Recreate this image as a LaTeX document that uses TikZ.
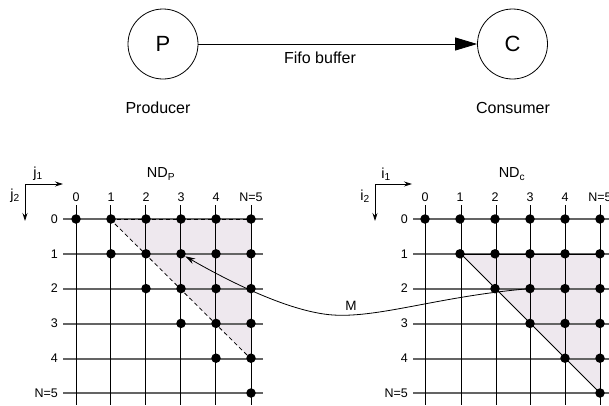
\documentclass[tikz,border=0pt]{standalone}
\usepackage{fontspec}
\setmainfont{Liberation Sans}
\usetikzlibrary{arrows.meta}

\definecolor{regionfill}{RGB}{238,232,238}
\definecolor{rowline}{RGB}{100,100,100}

\tikzset{
  procnode/.style={draw, circle, minimum size=70pt, inner sep=0pt, line width=0.8pt, font=\fontsize{22}{22}\selectfont},
  caption/.style={font=\fontsize{16}{16}\selectfont},
  gridlabel/.style={font=\fontsize{12.5}{12.5}\selectfont, inner sep=0pt},
  setlabel/.style={font=\fontsize{14.5}{14.5}\selectfont, inner sep=0pt},
  hline/.style={draw=rowline, line width=1.1pt},
  vline/.style={draw=black, line width=0.9pt},
  gdot/.style={circle, fill=black, inner sep=0pt, minimum size=9.5pt},
  axisarrow/.style={draw, line width=0.8pt, -{Stealth[length=8pt,width=5pt]}},
}

\begin{document}
\begin{tikzpicture}[x=1pt, y=-1pt]
\useasboundingbox (0,0) rectangle (609,405);

% ---- producer / consumer ----
\node[procnode] (P) at (163,44) {P};
\node[procnode] (C) at (512.5,44) {C};
\draw[line width=0.8pt, -{Stealth[length=22pt,width=13pt,inset=0pt]}] (P) -- (C);
\node[caption] (fifo) at (320,58) {Fifo buffer};
\node[caption] (prod) at (158,108) {Producer};
\node[caption] (cons) at (513,108) {Consumer};

% ---- shaded regions (under the grids) ----
\fill[regionfill] (110,219) -- (251,219) -- (251,359) -- cycle;
\fill[regionfill] (461,254) -- (600,254) -- (600,393) -- cycle;

% ---- left grid: ND_P ----
\foreach \r in {219,254,289,324,359,393} {
  \draw[hline] (63,\r) -- (263,\r);
}
\foreach \c in {76,110,145,180,215,251} {
  \draw[vline] (\c,205) -- (\c,405);
}
\foreach \lab [count=\k from 0] in {0,1,2,3,4,N=5} {
  \pgfmathsetmacro{\xx}{76+35*\k}
  \node[gridlabel, anchor=base] (LC\k) at (\xx,201) {\lab};
  \pgfmathsetmacro{\yy}{219+34.8*\k}
  \node[gridlabel, anchor=east] (LR\k) at (58,\yy) {\lab};
}
\draw[line width=0.9pt, dash pattern=on 4pt off 3pt] (110,219) -- (251,219);
\draw[line width=0.8pt, dash pattern=on 4pt off 3pt] (110,219) -- (251,359);

% dots of the left grid: row r holds columns from max(r,1) (row 0 holds all)
\foreach \r in {0,...,5} {
  \foreach \c in {0,...,5} {
    \pgfmathtruncatemacro{\show}{(\r==0) || (\c>=\r && \c>=1)}
    \ifnum\show=1
      \node[gdot] (L-\c-\r) at ({76+35*\c},{219+34.8*\r}) {};
    \fi
  }
}

\coordinate (Lax) at (25,184);
\coordinate (Lax1) at (63,184);
\coordinate (Lax2) at (25,221);
\draw[axisarrow] (Lax) -- (Lax1);
\draw[axisarrow] (Lax) -- (Lax2);
\node[setlabel] (j1) at (38,174) {j\textsubscript{1}};
\node[setlabel] (j2) at (15,196) {j\textsubscript{2}};
\node[setlabel] (NDP) at (161,174) {ND\textsubscript{P}};

% ---- right grid: ND_c ----
\foreach \r in {219,254,289,324,359,393} {
  \draw[hline] (413,\r) -- (612,\r);
}
\foreach \c in {425,461,496,530,565,600} {
  \draw[vline] (\c,205) -- (\c,405);
}
\foreach \lab [count=\k from 0] in {0,1,2,3,4,N=5} {
  \pgfmathsetmacro{\xx}{425+35*\k}
  \node[gridlabel, anchor=base] (RC\k) at (\xx,201) {\lab};
  \pgfmathsetmacro{\yy}{219+34.8*\k}
  \node[gridlabel, anchor=east] (RR\k) at (408,\yy) {\lab};
}
\draw[line width=1pt] (461,254) -- (600,254);
\draw[line width=0.8pt] (461,254) -- (600,393);

\foreach \r in {0,...,5} {
  \foreach \c in {0,...,5} {
    \pgfmathtruncatemacro{\show}{(\r==0) || (\c>=\r && \c>=1)}
    \ifnum\show=1
      \node[gdot] (R-\c-\r) at ({425+35*\c},{219+34.8*\r}) {};
    \fi
  }
}

\coordinate (Rax) at (375,184);
\coordinate (Rax1) at (412,184);
\coordinate (Rax2) at (375,221);
\draw[axisarrow] (Rax) -- (Rax1);
\draw[axisarrow] (Rax) -- (Rax2);
\node[setlabel] (i1) at (386,174) {i\textsubscript{1}};
\node[setlabel] (i2) at (365,196) {i\textsubscript{2}};
\node[setlabel] (NDC) at (512,174) {ND\textsubscript{c}};

% ---- mapping M ----
\coordinate (Mmid) at (333,315);
\draw[line width=0.8pt] (R-3-2.center) .. controls (440,296) and (380,318) .. (Mmid);
\draw[line width=0.8pt, -{Stealth[length=10pt,width=6pt]}] (Mmid) .. controls (290,312) and (230,282) .. (L-3-1);
\node[gridlabel, font=\fontsize{13.5}{13.5}\selectfont] (M) at (351,306) {M};

\end{tikzpicture}
\end{document}
